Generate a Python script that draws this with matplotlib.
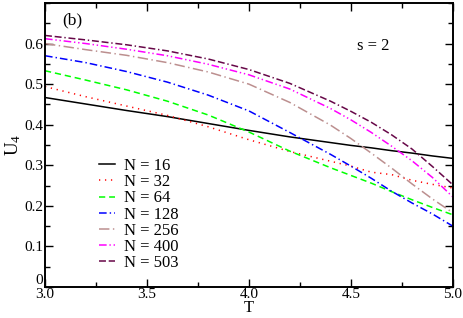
import matplotlib

matplotlib.use("Agg")
import matplotlib.pyplot as plt
import matplotlib.transforms as mtransforms
from matplotlib.ticker import MultipleLocator

plt.rcParams["font.family"] = ["Liberation Serif", "DejaVu Serif"]
plt.rcParams["mathtext.fontset"] = "custom"
plt.rcParams["mathtext.rm"] = "Liberation Serif"
plt.rcParams["mathtext.it"] = "Liberation Serif"
plt.rcParams["lines.scale_dashes"] = False

# temperature grid and U4 values
T = [3.0, 3.2, 3.4, 3.6, 3.8, 4.0, 4.2, 4.4, 4.5, 4.6, 4.7, 4.8, 4.9, 5.0]
u_16 = [0.467, 0.451, 0.435, 0.420, 0.403, 0.386, 0.370, 0.356, 0.349, 0.343, 0.336, 0.330, 0.323, 0.317]
u_32 = [0.494, 0.469, 0.446, 0.423, 0.395, 0.363, 0.334, 0.310, 0.298, 0.283, 0.277, 0.263, 0.253, 0.244]
u_64 = [0.533, 0.510, 0.486, 0.458, 0.424, 0.382, 0.335, 0.294, 0.275, 0.256, 0.235, 0.215, 0.196, 0.178]
u_128 = [0.570, 0.553, 0.531, 0.505, 0.473, 0.434, 0.381, 0.327, 0.298, 0.268, 0.236, 0.207, 0.180, 0.150]
u_256 = [0.600, 0.585, 0.571, 0.553, 0.530, 0.500, 0.455, 0.399, 0.366, 0.330, 0.293, 0.254, 0.217, 0.183]
u_400 = [0.612, 0.600, 0.586, 0.570, 0.549, 0.523, 0.488, 0.440, 0.412, 0.381, 0.347, 0.311, 0.270, 0.222]
u_503 = [0.620, 0.609, 0.597, 0.582, 0.562, 0.536, 0.502, 0.458, 0.433, 0.406, 0.375, 0.340, 0.297, 0.252]

labels = ["N = 16", "N = 32", "N = 64", "N = 128", "N = 256", "N = 400", "N = 503"]
series = [u_16, u_32, u_64, u_128, u_256, u_400, u_503]
colors = ["black", "#ff0000", "#00ff00", "#0000ff", "#bc8f8f", "#ff00ff", "#670748"]
styles = [
    "-",
    (0, (0.9, 3.4)),
    (0, (4.5, 2.8)),
    (0, (5.5, 2.2, 1.0, 2.2)),
    (0, (7.5, 2.5, 1.0, 2.5)),
    (0, (5.5, 2.0, 1.0, 2.0, 1.0, 2.0)),
    (0, (5.0, 2.0, 5.0, 2.0, 1.0, 2.0)),
]

fig = plt.figure(figsize=(4.63, 3.18), dpi=100)
ax = fig.add_axes([0.0972, 0.0975, 0.8808, 0.8931])

for ys, lab, c, ls in zip(series, labels, colors, styles):
    ax.plot(T, ys, color=c, linestyle=ls, linewidth=1.1, label=lab)

ax.set_xlim(3.0, 5.0)
ax.set_ylim(0, 0.7)
ax.set_xticks([3.0, 3.5, 4.0, 4.5, 5.0])
ax.set_xticklabels(["3.0", "3.5", "4.0", "4.5", "5.0"])
ax.set_yticks([0, 0.1, 0.2, 0.3, 0.4, 0.5, 0.6])
ax.set_yticklabels(["0", "0.1", "0.2", "0.3", "0.4", "0.5", "0.6"])
ax.xaxis.set_minor_locator(MultipleLocator(0.25))
ax.yaxis.set_minor_locator(MultipleLocator(0.05))
ax.tick_params(which="both", direction="in", top=True, right=True,
               labelsize=11, width=1.0, pad=1.5)
ax.tick_params(axis="x", which="both", pad=0.5)
ax.tick_params(which="major", length=5.8)
ax.tick_params(which="minor", length=3.6)
for sp in ax.spines.values():
    sp.set_linewidth(1.4)

# the "0" label sits a little above its tick, clear of "3.0"
zero_lab = ax.get_yticklabels()[0]
zero_lab.set_transform(zero_lab.get_transform()
                       + mtransforms.ScaledTranslation(0, 6 / 72, fig.dpi_scale_trans))

ax.set_xlabel("T", fontsize=12, labelpad=-0.5)
ax.set_ylabel("U$_4$", fontsize=13.5, labelpad=1)

ax.text(0.042, 0.937, "(b)", transform=ax.transAxes, fontsize=12.5, va="center")
ax.text(0.765, 0.849, "s = 2", transform=ax.transAxes, fontsize=12, va="center")

ax.legend(loc="upper left", bbox_to_anchor=(0.132, 0.454), frameon=False,
          fontsize=12, borderpad=0, borderaxespad=0, handlelength=0.96,
          handletextpad=0.54, labelspacing=0.01)

fig.savefig("out.png", dpi=100)
